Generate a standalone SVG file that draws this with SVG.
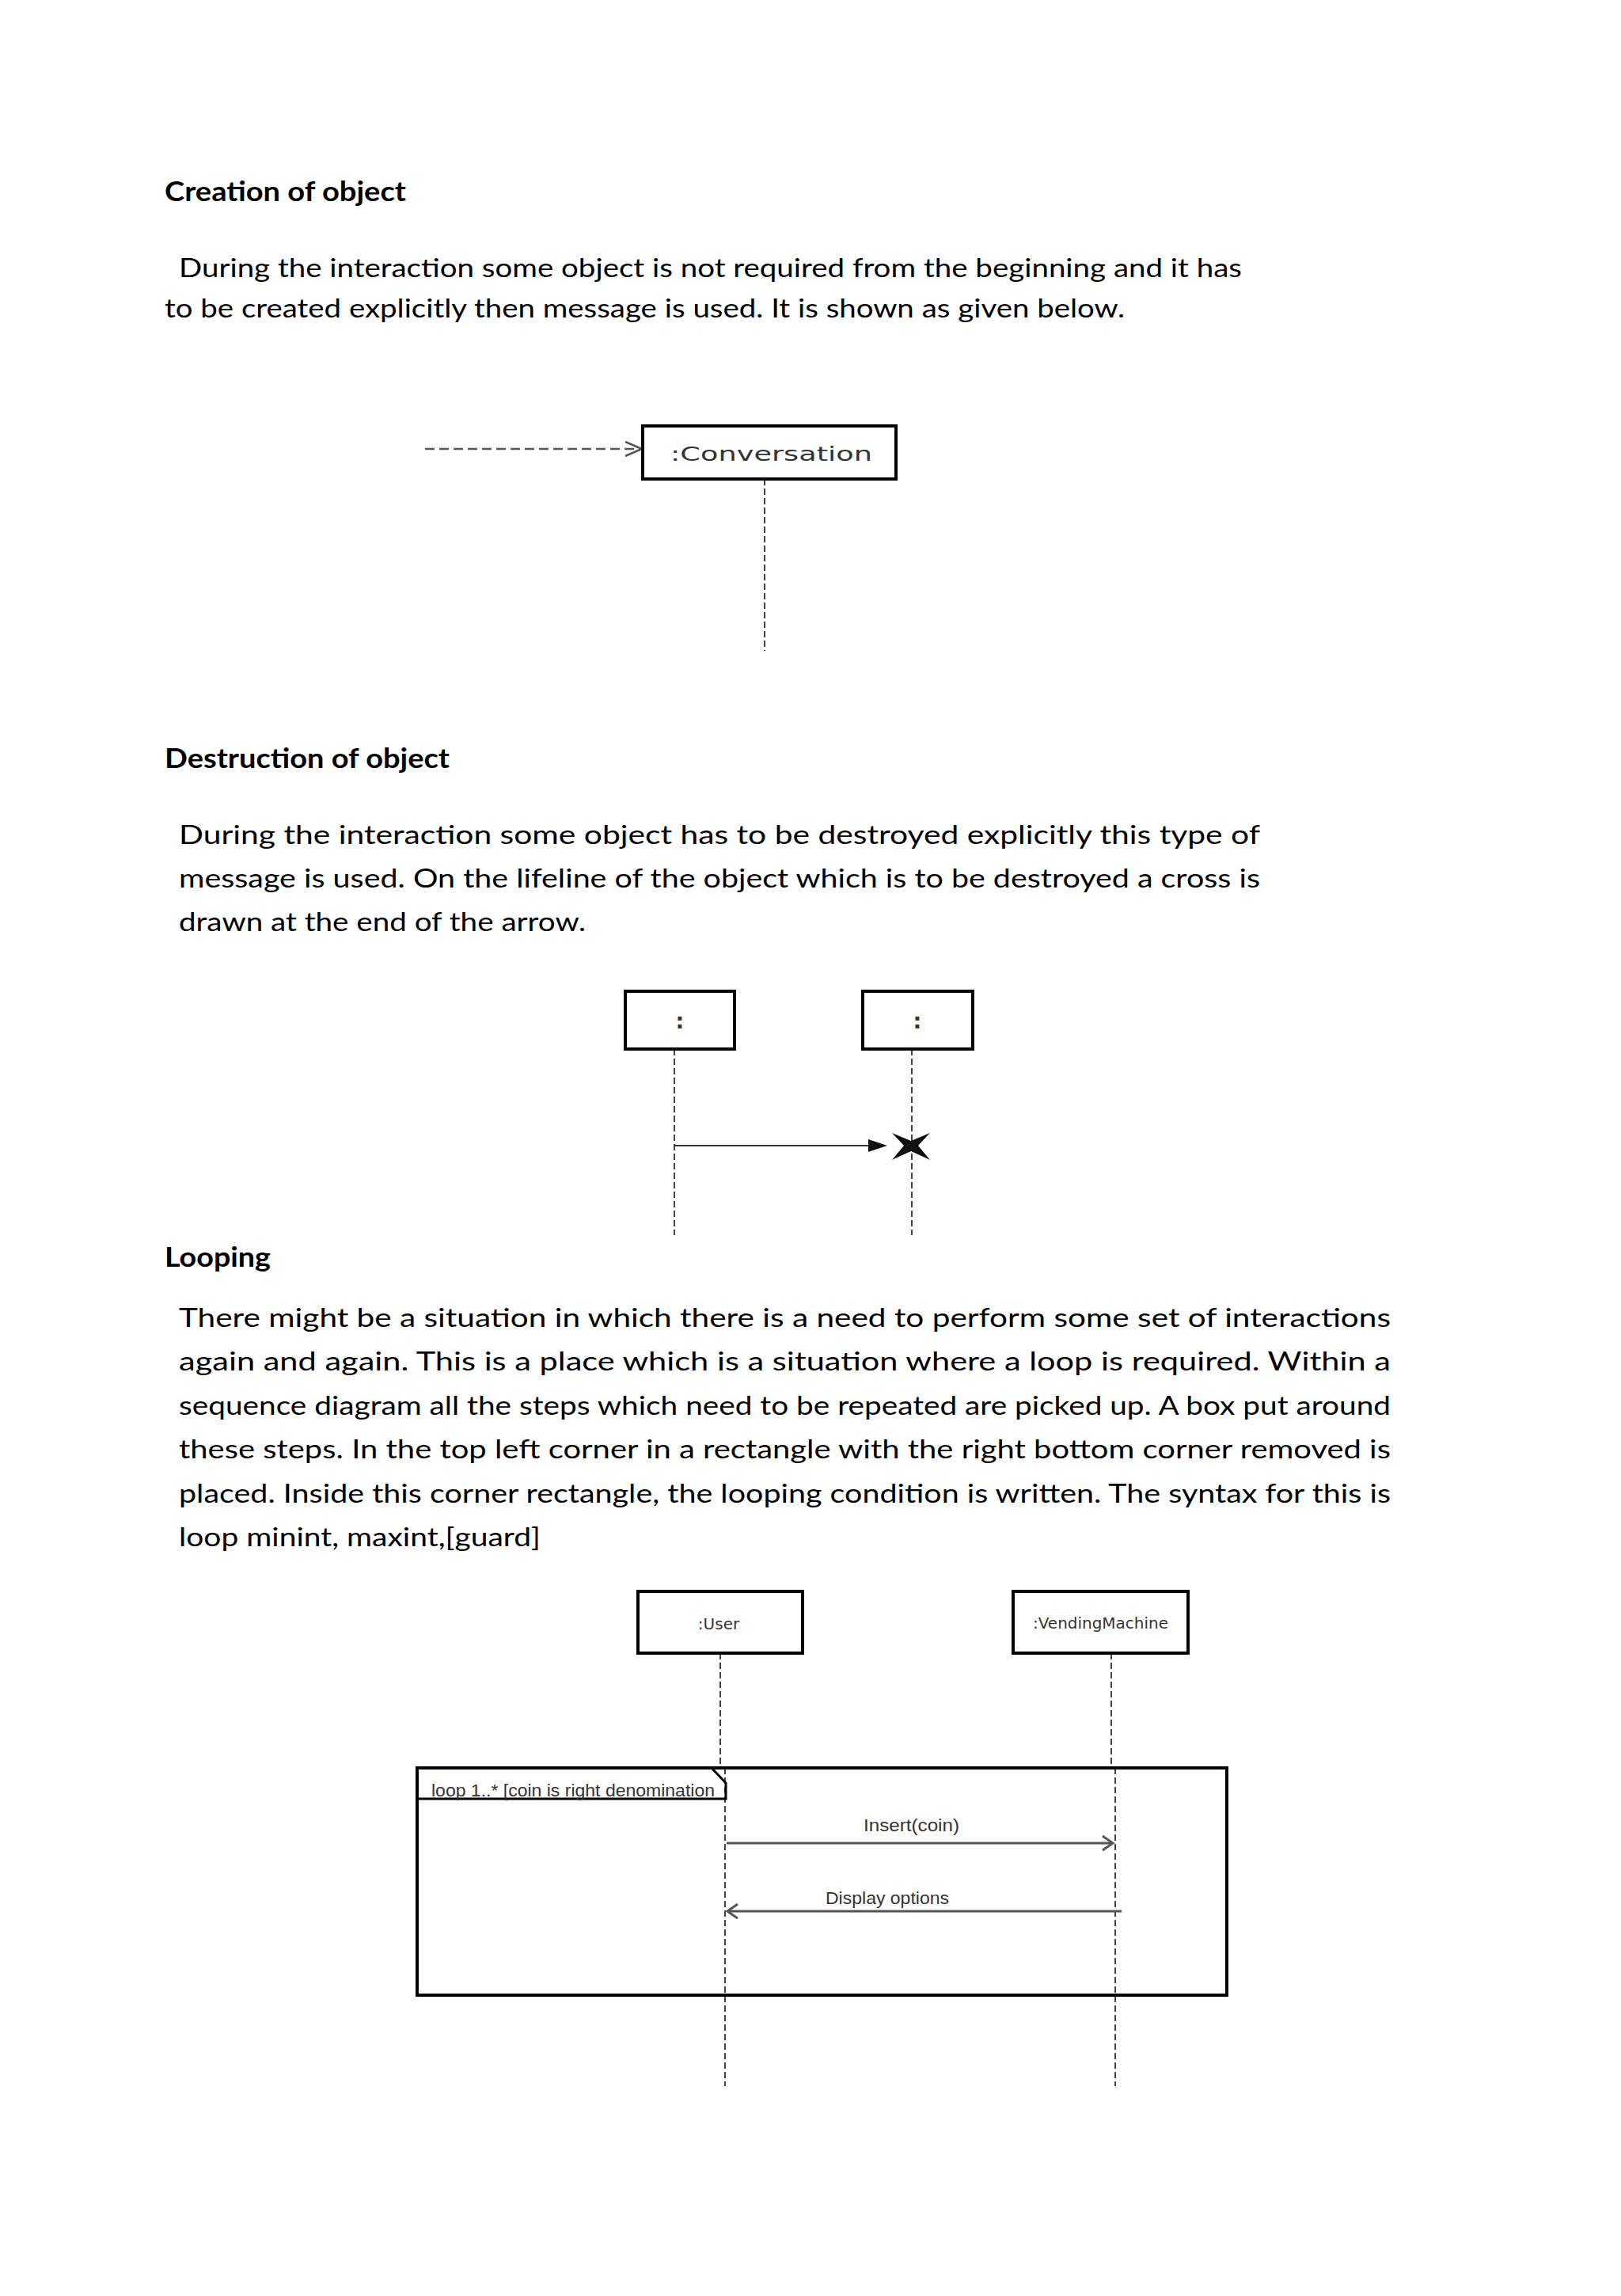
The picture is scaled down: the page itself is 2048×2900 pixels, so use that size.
<svg xmlns="http://www.w3.org/2000/svg" width="2048" height="2900" viewBox="0 0 2048 2900">
<style>
.h{font-family:Lato,"Open Sans","Liberation Sans",sans-serif;font-weight:bold;font-size:34px;fill:#000}
.p{font-family:Lato,"Open Sans","Liberation Sans",sans-serif;font-size:33px;fill:#000}
.box{fill:#fff;stroke:#000;stroke-width:4}
.lbl{font-family:"DejaVu Sans",Verdana,sans-serif;fill:#333}
.msg{font-family:"Liberation Sans",Arial,sans-serif;font-size:22px;fill:#333}
.life{fill:none;stroke:#444;stroke-width:2;stroke-dasharray:8 4}
.arr{fill:none;stroke:#555;stroke-width:3}
</style>
<rect width="2048" height="2900" fill="#fff"/>

<text class="h" x="208" y="254" textLength="305" lengthAdjust="spacingAndGlyphs">Creation of object</text>
<text class="p" x="226" y="350" textLength="1343" lengthAdjust="spacingAndGlyphs">During the interaction some object is not required from the beginning and it has</text>
<text class="p" x="208" y="401" textLength="1213" lengthAdjust="spacingAndGlyphs">to be created explicitly then message is used. It is shown as given below.</text>

<text class="h" x="208" y="970" textLength="360" lengthAdjust="spacingAndGlyphs">Destruction of object</text>
<text class="p" x="226" y="1066" textLength="1366" lengthAdjust="spacingAndGlyphs">During the interaction some object has to be destroyed explicitly this type of</text>
<text class="p" x="226" y="1121" textLength="1366" lengthAdjust="spacingAndGlyphs">message is used. On the lifeline of the object which is to be destroyed a cross is</text>
<text class="p" x="226" y="1176" textLength="514" lengthAdjust="spacingAndGlyphs">drawn at the end of the arrow.</text>

<text class="h" x="208" y="1600" textLength="134" lengthAdjust="spacingAndGlyphs">Looping</text>
<text class="p" x="226" y="1676" textLength="1531" lengthAdjust="spacingAndGlyphs">There might be a situation in which there is a need to perform some set of interactions</text>
<text class="p" x="226" y="1731" textLength="1531" lengthAdjust="spacingAndGlyphs">again and again. This is a place which is a situation where a loop is required. Within a</text>
<text class="p" x="226" y="1787" textLength="1531" lengthAdjust="spacingAndGlyphs">sequence diagram all the steps which need to be repeated are picked up. A box put around</text>
<text class="p" x="226" y="1842" textLength="1531" lengthAdjust="spacingAndGlyphs">these steps. In the top left corner in a rectangle with the right bottom corner removed is</text>
<text class="p" x="226" y="1898" textLength="1531" lengthAdjust="spacingAndGlyphs">placed. Inside this corner rectangle, the looping condition is written. The syntax for this is</text>
<text class="p" x="226" y="1953" textLength="457" lengthAdjust="spacingAndGlyphs">loop minint, maxint,[guard]</text>

<g id="connectors">
  <!-- creation -->
  <path d="M537,567 H810" fill="none" stroke="#555" stroke-width="2.5" stroke-dasharray="12 6"/>
  <path d="M790,558 L811,567 L790,576" fill="none" stroke="#555" stroke-width="2.5"/>
  <path class="life" d="M966,605 V822" stroke="#333"/>
  <!-- destruction -->
  <path class="life" d="M852,1325 V1560"/>
  <path class="life" d="M1152,1325 V1560"/>
  <path d="M852,1447 H1099" stroke="#333" stroke-width="2"/>
  <polygon points="1097,1439 1121,1447 1097,1455" fill="#111"/>
  <polygon points="1127,1431 1151,1441 1175,1431 1160,1447 1175,1465 1151,1454 1127,1465 1142,1447" fill="#111"/>
  <!-- loop lifelines -->
  <path class="life" d="M910,2088 V2233" stroke="#666"/>
  <path class="life" d="M916,2233 V2635" stroke="#666"/>
  <path class="life" d="M1404,2088 V2233" stroke="#666"/>
  <path class="life" d="M1409,2233 V2635" stroke="#666"/>
  <!-- Insert(coin) -->
  <path class="arr" d="M918,2328 H1405"/>
  <path class="arr" d="M1393,2319 L1406,2328 L1393,2337"/>
  <text class="msg" x="1091" y="2313" textLength="121" lengthAdjust="spacingAndGlyphs">Insert(coin)</text>
  <!-- Display options -->
  <path class="arr" d="M1417,2414 H920"/>
  <path class="arr" d="M932,2405 L919,2414 L932,2423"/>
  <text class="msg" x="1043" y="2405" textLength="156" lengthAdjust="spacingAndGlyphs">Display options</text>
</g>

<g id="conversation">
  <rect class="box" x="812" y="538" width="320" height="67"/>
  <text class="lbl" x="847" y="582" font-size="25" textLength="255" lengthAdjust="spacingAndGlyphs">:Conversation</text>
</g>

<g id="object1">
  <rect class="box" x="790" y="1252" width="138" height="73"/>
  <text class="lbl" x="859" y="1299" font-size="27" font-weight="bold" text-anchor="middle">:</text>
</g>

<g id="object2">
  <rect class="box" x="1090" y="1252" width="139" height="73"/>
  <text class="lbl" x="1159" y="1299" font-size="27" font-weight="bold" text-anchor="middle">:</text>
</g>

<g id="loop">
  <rect x="527" y="2233" width="1023" height="287" fill="none" stroke="#000" stroke-width="4"/>
  <path d="M527,2272 H917 V2252 L899,2233" fill="none" stroke="#000" stroke-width="3"/>
  <text class="msg" x="545" y="2269" font-size="24" textLength="358" lengthAdjust="spacingAndGlyphs">loop 1..* [coin is right denomination</text>
</g>

<g id="user">
  <rect class="box" x="806" y="2010" width="208" height="78"/>
  <text class="lbl" x="908" y="2058" font-size="20" text-anchor="middle">:User</text>
</g>

<g id="vendingmachine">
  <rect class="box" x="1280" y="2010" width="221" height="78"/>
  <text class="lbl" x="1305" y="2057" font-size="20" textLength="171" lengthAdjust="spacingAndGlyphs">:VendingMachine</text>
</g>
</svg>
